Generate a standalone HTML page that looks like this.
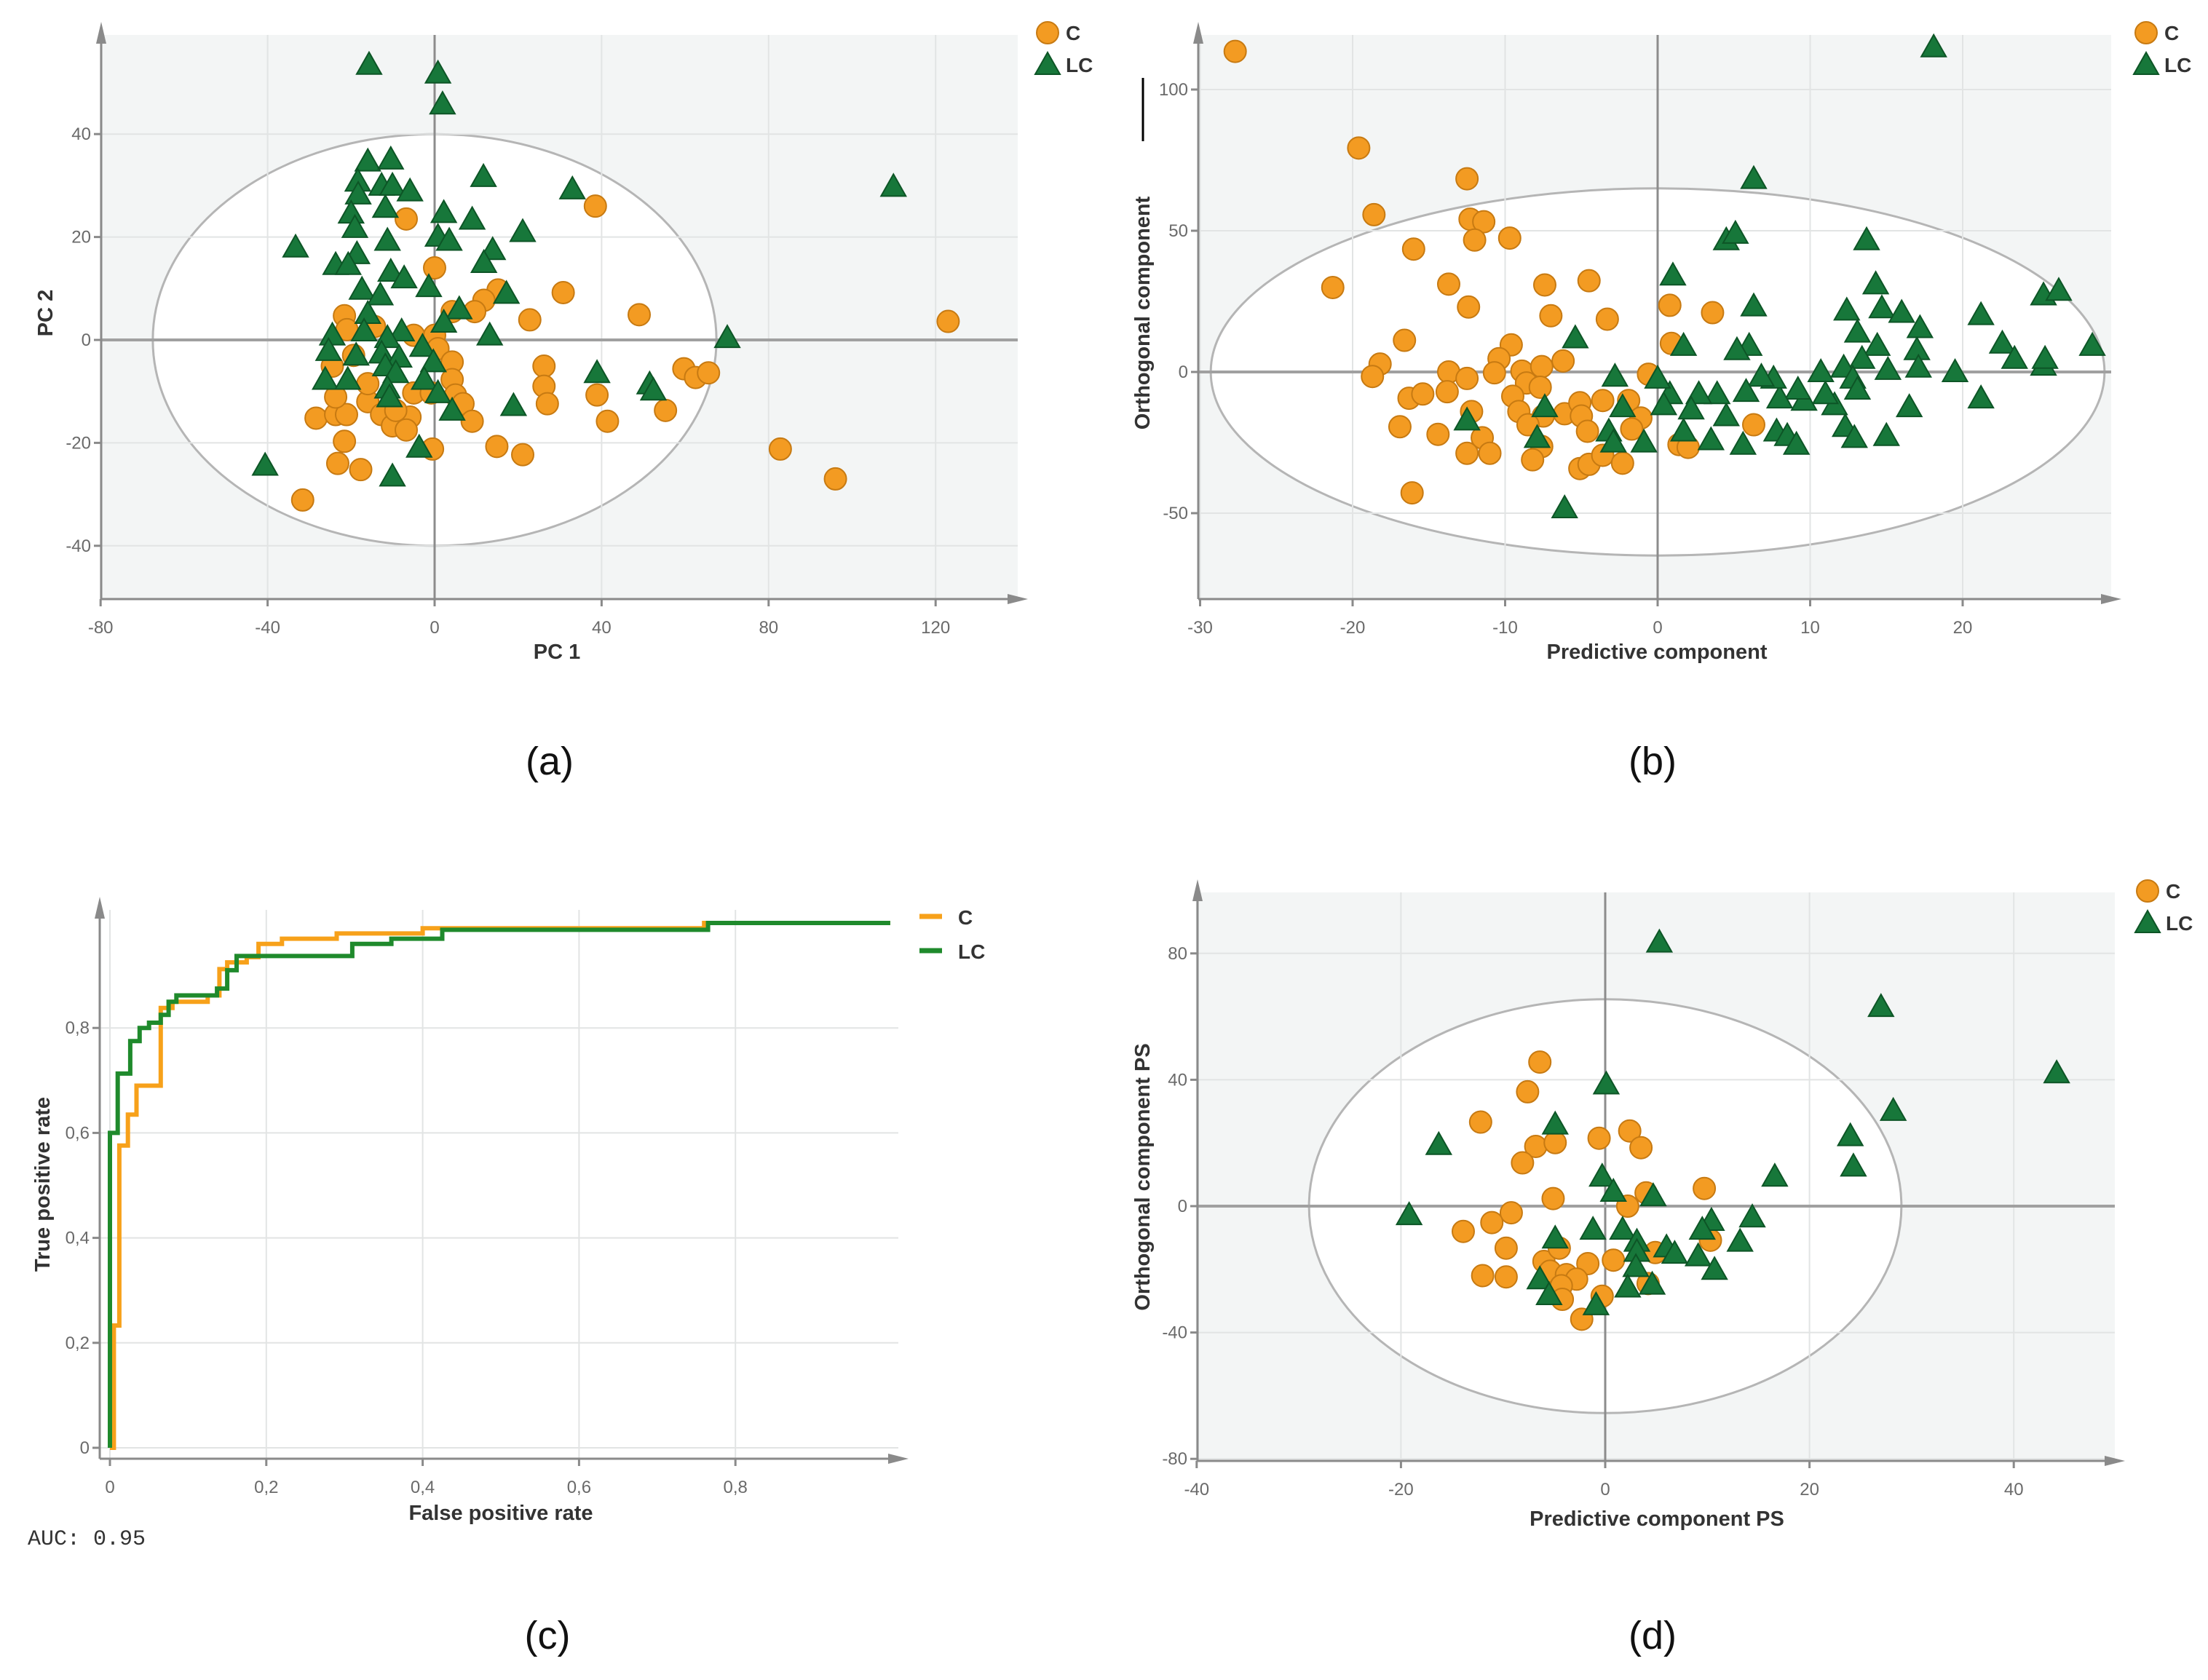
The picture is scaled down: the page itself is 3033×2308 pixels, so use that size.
<!DOCTYPE html>
<html><head><meta charset="utf-8"><style>
html,body{margin:0;padding:0;background:#fff;}
svg{display:block;font-family:"Liberation Sans",sans-serif;}
</style></head><body>
<svg id="fig" width="3033" height="2308" viewBox="0 0 3033 2308" xmlns="http://www.w3.org/2000/svg"></svg>
<script>
// ---------- Panel (a) PCA data ----------
const aCx=[-6.8,0,38.5,30.8,49,22.8,123,15.2,11.8,9.6,4.2,-21.6,-21,-14.4,-5,0,0.8,4.2,4.2,5,6.8,9,-5,-0.8,26.2,26.2,27,38.9,41.4,55.3,59.7,62.5,65.6,14.9,21.1,-0.5,82.8,96,-31.6,-21.6,-23.2,-17.7,-28.4,-23.7,-21.1,-23.7,-16,-12.7,-10.1,-5.9,-6.8,-9.3,-16,-19.4,-24.5];
const aCy=[23.5,14,26,9.2,4.9,3.9,3.6,9.7,7.7,5.5,5.5,4.7,2,2.6,0.9,0.9,-1.7,-4.3,-7.7,-10.7,-12.4,-15.8,-10.3,-10.3,-5.1,-9,-12.4,-10.7,-15.8,-13.7,-5.6,-7.3,-6.4,-20.7,-22.3,-21.2,-21.2,-27,-31.1,-19.7,-24,-25.2,-15.2,-14.5,-14.5,-11.1,-12,-14.5,-16.7,-15,-17.5,-13.7,-8.5,-3,-5.1];
const aLx=[-15.7,0.8,1.9,109.9,-33.3,-16,-10.5,-18.4,-12.7,-10.1,-5.9,-18.3,-11.8,2.2,-20,-19.1,-11.3,0.8,3.5,9,21.1,11.7,33,13.9,11.8,-18.6,-23.7,-20.7,-10.5,-7.3,-1.4,-17.4,-13,17.2,5.9,2.2,13.2,-16,-16.9,-24.5,-25.4,-7.9,-11.3,-2.9,-18.8,-12.7,-8.5,-0.3,-26.2,-20.8,-11.8,-9.3,-2.5,-11.3,-10.8,0.8,4.2,18.9,38.9,51.5,52.4,70.1,-40.6,-10.1,-3.7];
const aLy=[53.5,51.8,45.8,29.8,18,34.7,35.1,30.8,30,30,28.9,28.3,25.7,24.7,24.6,21.8,19.3,20.1,19.3,23.4,21,31.7,29.3,17.5,15,16.7,14.6,14.6,13.3,12,10.3,9.8,8.7,9,6,3.4,0.9,5.1,1.7,0.9,-2.1,1.7,0.4,-1.3,-3,-2.6,-3.4,-4.3,-7.7,-7.7,-5.1,-6.4,-7.7,-9.4,-11.1,-10.3,-13.7,-12.8,-6.4,-8.6,-9.8,0.4,-24.4,-26.5,-20.9];
const aXTicks=[-80,-40,0,40,80,120];
const aYTicks=[-40,-20,0,20,40];
// ---------- Panel (b) OPLS-DA data ----------
const bCx=[-27.7,-19.6,-12.5,-18.6,-12.3,-11.4,-12,-9.7,-16,-21.3,-13.7,-12.4,-7.4,-4.5,-7,-3.3,0.8,3.6,0.9,-16.6,-9.6,-10.4,-6.2,-18.2,-18.7,-13.7,-12.5,-10.7,-8.9,-7.6,-8.6,-7.7,-0.6,-16.3,-15.4,-13.8,-9.5,-9.1,-12.2,-7.5,-6.1,-5.1,-5,-3.6,-1.9,-1.1,-4.6,-8.5,-16.9,-14.4,-11.5,-12.5,-11,-7.6,-8.2,-5.1,-4.5,-3.6,-2.3,-1.7,1.4,2,6.3,-16.1];
const bCy=[113.5,79.3,68.4,55.7,54.1,53.2,46.7,47.4,43.5,29.9,31.1,23,30.8,32.3,19.9,18.7,23.6,21,10.1,11.2,9.6,4.7,3.9,2.8,-1.6,0,-2.3,-0.3,0.3,1.9,-3.9,-5.4,-0.8,-9.3,-7.8,-7,-8.6,-14,-14,-15.6,-14.8,-10.9,-15.6,-10.1,-10.1,-16.3,-21,-18.7,-19.4,-22.1,-23.3,-28.8,-28.8,-26.4,-31.1,-34.2,-32.7,-29.5,-32.3,-20.2,-25.7,-26.7,-18.7,-42.8];
const bLx=[18.1,6.3,4.5,5.1,13.7,1,14.3,6.3,12.4,14.7,16,17.2,21.2,25.3,26.3,28.5,22.6,23.4,25.3,25.4,19.5,21.2,17,17.1,15.1,14.4,13.1,13.4,12.2,12.8,10.7,13.1,11.6,12.3,12.9,15,16.5,11,9.6,9.2,8,7.6,6.8,6,5.2,5.8,4.5,3.9,2.7,2.2,1.7,0.8,0.4,0,-2.8,-2.3,-7.4,-12.5,-7.9,-3.2,-2.9,-0.9,1.7,3.5,5.6,7.8,8.5,9.1,-5.4,-6.1];
const bLy=[115,68.4,46.7,49,46.7,34.2,31.1,23.3,21.8,22.6,21,15.6,20.2,27.2,28.8,9.3,10.1,4.7,2.3,4.7,0,-9.3,7.8,1.6,0.8,9.3,14,4.7,1.6,-2.3,0,-6.2,-11.7,-19.4,-23.3,-22.6,-12.4,-7.8,-10.1,-6.2,-9.3,-2.3,-1.6,9.3,7.8,-7,-15.6,-7.8,-7.8,-13.2,9.3,-7.8,-11.7,-2.3,-1.6,-12.4,-12.4,-17.1,-23.3,-21,-24.9,-24.9,-21,-24.1,-25.7,-21,-22.6,-25.7,12,-48.2];
const bXTicks=[-30,-20,-10,0,10,20];
const bYTicks=[-50,0,50,100];
// ---------- Panel (c) ROC data ----------
const rocCfpr=[0,0.005,0.005,0.012,0.012,0.023,0.023,0.034,0.034,0.065,0.065,0.08,0.08,0.125,0.125,0.14,0.14,0.15,0.15,0.175,0.175,0.19,0.19,0.22,0.22,0.29,0.29,0.4,0.4,0.76,0.76,0.998];
const rocCtpr=[0,0,0.233,0.233,0.576,0.576,0.635,0.635,0.69,0.69,0.838,0.838,0.85,0.85,0.862,0.862,0.912,0.912,0.925,0.925,0.935,0.935,0.96,0.96,0.97,0.97,0.98,0.98,0.99,0.99,1,1];
const rocLfpr=[0,0,0.01,0.01,0.026,0.026,0.038,0.038,0.05,0.05,0.065,0.065,0.075,0.075,0.085,0.085,0.137,0.137,0.15,0.15,0.162,0.162,0.31,0.31,0.36,0.36,0.425,0.425,0.765,0.765,0.998];
const rocLtpr=[0,0.6,0.6,0.713,0.713,0.775,0.775,0.8,0.8,0.81,0.81,0.825,0.825,0.85,0.85,0.862,0.862,0.875,0.875,0.91,0.91,0.937,0.937,0.96,0.96,0.97,0.97,0.987,0.987,1,1];
const cXTicks=[0,0.2,0.4,0.6,0.8];
const cXLabels=["0","0,2","0,4","0,6","0,8"];
const cYTicks=[0,0.2,0.4,0.6,0.8];
const cYLabels=["0","0,2","0,4","0,6","0,8"];
// ---------- Panel (d) PS data ----------
const dCx=[-6.4,-7.6,-12.2,-6.8,-4.9,-0.6,2.4,3.5,-8.1,-5.1,9.7,2.2,4,-9.2,-11.1,-13.9,-9.7,10.3,4.9,0.8,-1.7,-6,-5.4,-12,-9.7,-3.8,-2.8,-4.3,-4.2,-0.3,-2.3,4.2,-4.5];
const dCy=[45.6,36.2,26.6,18.9,20.1,21.5,23.8,18.5,13.7,2.4,5.6,0,4.2,-2.1,-5.2,-8,-13.3,-10.8,-14.7,-17.1,-18.2,-17.5,-20.6,-22,-22.4,-21.7,-23.1,-25.2,-29.5,-28.5,-35.8,-24.5,-13.3];
const dLx=[5.3,27,44.2,28.2,0.1,-4.9,-16.3,24,24.3,16.6,-0.3,0.8,4.7,-19.2,14.4,10.4,9.5,-1.2,1.7,-4.9,3.1,3.1,6,6.8,13.2,9.1,10.7,3,-6.4,-5.5,2.2,4.6,-0.9];
const dLy=[83.5,63.1,42.1,30.2,38.6,25.9,19.4,22.2,12.6,9.4,9.4,4.6,3.2,-2.8,-3.5,-4.6,-7.4,-7.4,-7.4,-10.2,-11.2,-14.4,-13,-15,-11.2,-15.8,-20.1,-19.2,-23.1,-28.1,-25.7,-24.8,-31.3];
const dXTicks=[-40,-20,0,20,40];
const dYTicks=[-80,-40,0,40,80];

const NS="http://www.w3.org/2000/svg";
const svg=document.getElementById('fig');
const ORF="#f39b22",ORS="#c77a12",GRF="#17773a",GRS="#0d5526";
function mk(tag,attrs,parent){const e=document.createElementNS(NS,tag);for(const k in attrs)e.setAttribute(k,attrs[k]);(parent||svg).appendChild(e);return e;}
function txt(s,attrs,parent){const e=mk('text',attrs,parent);e.textContent=s;return e;}

function frame(g,c,shade){
  if(shade){const r=mk('rect',{x:c.L,y:c.T,width:c.R-c.L,height:c.B-c.T,fill:"#f3f5f5"},g);
    
    }
  if(c.ell){const e=mk('ellipse',{cx:c.sx(0),cy:c.sy(0),rx:c.ell[0]*c.xp,ry:c.ell[1]*c.yp,fill:"#fff",stroke:"#b5b5b5","stroke-width":3},g);
    
    }
  c.xt.forEach(v=>{const l=mk('line',{x1:c.sx(v),x2:c.sx(v),y1:c.T,y2:c.B,stroke:"#e2e4e4","stroke-width":2},g);
    
    });
  c.yt.forEach(v=>{const l=mk('line',{x1:c.L,x2:c.R,y1:c.sy(v),y2:c.sy(v),stroke:"#e2e4e4","stroke-width":2},g);
    
    });
  if(c.zero){
    const z1=mk('line',{x1:c.sx(0),x2:c.sx(0),y1:c.T,y2:c.B,stroke:"#8c8c8c","stroke-width":3},g);
    
    
    const z2=mk('line',{x1:c.L,x2:c.R,y1:c.sy(0),y2:c.sy(0),stroke:"#a0a0a0","stroke-width":4},g);
    
    
  }
  const ax=mk('line',{x1:c.L,x2:c.L,y1:c.T-10,y2:c.B,stroke:"#8a8a8a","stroke-width":3},g);
  
  
  const ay=mk('line',{x1:c.L,x2:c.R,y1:c.B,y2:c.B,stroke:"#8a8a8a","stroke-width":3},g);
  
  
  const a1=mk('polygon',{points:`${c.L-7},${c.T+12} ${c.L+7},${c.T+12} ${c.L},${c.T-18}`,fill:"#8a8a8a"},g);
  
  
  const a2=mk('polygon',{points:`${c.R-14},${c.B-7} ${c.R-14},${c.B+7} ${c.R+14},${c.B}`,fill:"#8a8a8a"},g);
  
  
  c.xt.forEach((v,i)=>{
    const t=mk('line',{x1:c.sx(v),x2:c.sx(v),y1:c.B,y2:c.B+10,stroke:"#8a8a8a","stroke-width":3},g);
    
    
    const s=txt(c.xl?c.xl[i]:String(v),{x:c.sx(v),y:c.B+47,"font-size":24,fill:"#6a6a6a","text-anchor":"middle"},g);
    
    });
  c.yt.forEach((v,i)=>{
    const t=mk('line',{x1:c.L-10,x2:c.L,y1:c.sy(v),y2:c.sy(v),stroke:"#8a8a8a","stroke-width":3},g);
    
    
    const s=txt(c.yl?c.yl[i]:String(v),{x:c.L-14,y:c.sy(v)+8,"font-size":24,fill:"#6a6a6a","text-anchor":"end"},g);
    
    });
}
function circ(g,x,y){const e=mk('circle',{cx:x,cy:y,r:15,fill:ORF,stroke:ORS,"stroke-width":2},g);return e;}
function tri(g,x,y){const e=mk('polygon',{points:`${x-17},${y+13} ${x+17},${y+13} ${x},${y-17}`,fill:GRF,stroke:GRS,"stroke-width":2},g);return e;}
function scatter(g,c,xs,ys,kind){
  xs.forEach((v,i)=>{
    const e=kind==='C'?circ(g,c.sx(v),c.sy(ys[i])):tri(g,c.sx(v),c.sy(ys[i]));
    if(kind==='C'){}else{}
    
  });
}
function legendPts(g,x,y){
  const c=circ(g,x,y);
  
  
  const t1=txt("C",{x:x+25,y:y+10,"font-size":28,"font-weight":"bold",fill:"#333"},g);
  
  
  const t=tri(g,x,y+44);
  
  
  const t2=txt("LC",{x:x+25,y:y+54,"font-size":28,"font-weight":"bold",fill:"#333"},g);
  
  
}
function titles(g,xt,xx,xy,yt,yx,yy){
  const a=txt(xt,{x:xx,y:xy,"font-size":29,"font-weight":"bold",fill:"#333","text-anchor":"middle"},g);
  
  
  const b=txt(yt,{x:0,y:0,"font-size":29,"font-weight":"bold",fill:"#333","text-anchor":"middle",transform:`translate(${yx},${yy}) rotate(-90)`},g);
  
  
}
function caption(s,x,y){const e=txt(s,{x:x,y:y,"font-size":54,fill:"#111","text-anchor":"middle"});
  
  }
function cfg(L,T,R,B,x0,xp,y0,yp,xt,yt,ell,zero,xl,yl){
  return {L,T,R,B,xp,yp,xt,yt,ell,zero,xl,yl,sx:v=>x0+v*xp,sy:v=>y0-v*yp};
}

// Panel a
const ga=mk('g',{});


const ca=cfg(139,48,1398,823,597,5.735,467,7.07,aXTicks,aYTicks,[67.5,40],true);
frame(ga,ca,true);
scatter(ga,ca,aCx,aCy,'C');scatter(ga,ca,aLx,aLy,'LC');
legendPts(ga,1439,45);
titles(ga,"PC 1",765,905,"PC 2",72,430);
caption("(a)",755,1064);

// Panel b
const gb=mk('g',{});


const cb=cfg(1646,48,2900,823,2277,20.95,511,3.88,bXTicks,bYTicks,[29.3,65],true);
frame(gb,cb,true);
scatter(gb,cb,bCx,bCy,'C');scatter(gb,cb,bLx,bLy,'LC');
legendPts(gb,2948,45);
titles(gb,"Predictive component",2276,905,"Orthogonal component",1579,430);
const bar=mk('line',{x1:1570,x2:1570,y1:107,y2:194,stroke:"#000","stroke-width":3},gb);


caption("(b)",2270,1064);

// Panel c
const gc=mk('g',{});


const cc=cfg(137,1250,1234,2004,151,1074,1989,721,cXTicks,cYTicks,null,false,cXLabels,cYLabels);
frame(gc,cc,false);
function rocPath(xs,ys){return xs.map((v,i)=>(i?'L':'M')+cc.sx(v).toFixed(1)+','+cc.sy(ys[i]).toFixed(1)).join(' ');}
const pc=mk('path',{d:rocPath(rocCfpr,rocCtpr),fill:"none",stroke:"#f7a11a","stroke-width":6},gc);


const pl=mk('path',{d:rocPath(rocLfpr,rocLtpr),fill:"none",stroke:"#1f8a2c","stroke-width":6},gc);


const lg1=mk('line',{x1:1263,x2:1294,y1:1259,y2:1259,stroke:"#f7a11a","stroke-width":7},gc);


const lt1=txt("C",{x:1316,y:1270,"font-size":28,"font-weight":"bold",fill:"#333"},gc);


const lg2=mk('line',{x1:1263,x2:1294,y1:1306,y2:1306,stroke:"#1f8a2c","stroke-width":7},gc);


const lt2=txt("LC",{x:1316,y:1317,"font-size":28,"font-weight":"bold",fill:"#333"},gc);


titles(gc,"False positive rate",688,2088,"True positive rate",68,1627);
const auc=txt("AUC: 0.95",{x:38,y:2122,"font-size":30,fill:"#333","font-family":"Liberation Mono, monospace"},gc);


caption("(c)",752,2265);

// Panel d
const gd=mk('g',{});


const cd=cfg(1645,1226,2905,2007,2205,14.03,1657,4.34,dXTicks,dYTicks,[29,65.5],true);
frame(gd,cd,true);
scatter(gd,cd,dCx,dCy,'C');scatter(gd,cd,dLx,dLy,'LC');
legendPts(gd,2950,1224);
titles(gd,"Predictive component PS",2276,2096,"Orthogonal component PS",1579,1617);
caption("(d)",2270,2265);
</script>
</body></html>
